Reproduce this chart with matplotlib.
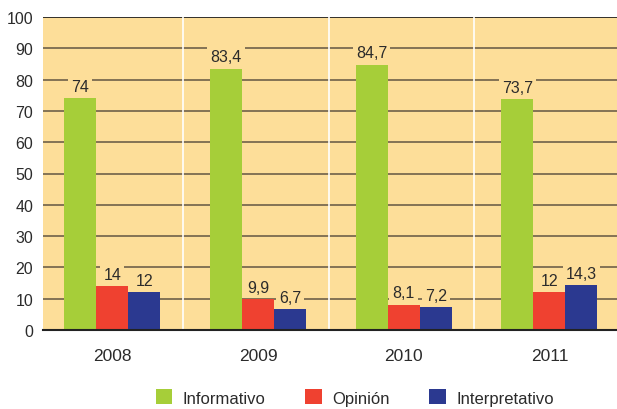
import matplotlib.pyplot as plt
import numpy as np

plt.rcParams['font.family'] = ['Liberation Sans', 'DejaVu Sans']

# Datos
anios = ['2008', '2009', '2010', '2011']
informativo = [74, 83.4, 84.7, 73.7]
opinion = [14, 9.9, 8.1, 12]
interpretativo = [12, 6.7, 7.2, 14.3]

colores = ['#A6CE39', '#EF4130', '#2B3990']
fondo = '#FDDE99'
texto = '#2b2b2b'

fig = plt.figure(figsize=(6.17, 4.10), dpi=100)
ax = fig.add_axes([43 / 617, 1 - 331 / 410, 1 - 43 / 617, (331 - 18) / 410])
ax.set_facecolor(fondo)

x = np.arange(len(anios))
ancho = 0.22
series = [('Informativo', informativo), ('Opinión', opinion), ('Interpretativo', interpretativo)]

# lineas horizontales de la cuadricula
for v in range(10, 100, 10):
    ax.axhline(v, color='#7a6a4f', lw=1.3, zorder=1)
ax.axhline(100, color='#222222', lw=1.3, zorder=1)
# separadores blancos entre grupos
for b in [0.485, 1.487, 2.483]:
    ax.axvline(b, color='white', lw=1.2, zorder=1)

for i, (nombre, valores) in enumerate(series):
    pos = x + (i - 1) * ancho
    ax.bar(pos, valores, ancho, color=colores[i], label=nombre, zorder=2)
    for p, v in zip(pos, valores):
        etiqueta = ('%g' % v).replace('.', ',')
        ax.text(p, v + 2.4, etiqueta, ha='center', va='baseline', fontsize=11.5, color=texto, zorder=3,
                bbox=dict(boxstyle='square,pad=0.2', fc=fondo, ec='none'))

ax.set_xlim(-0.476, 3.464)
ax.set_ylim(0, 100)
ax.set_yticks(range(0, 101, 10))
ax.set_xticks(x)
ax.set_xticklabels(anios)
ax.tick_params(axis='both', length=0, labelsize=11.5, colors=texto)
ax.tick_params(axis='x', pad=13, labelsize=12.5)
ax.tick_params(axis='y', pad=7)
for lado in ['left', 'right', 'top']:
    ax.spines[lado].set_visible(False)
ax.spines['bottom'].set_color('#222222')
ax.spines['bottom'].set_linewidth(1.5)

fig.legend(loc='center', bbox_to_anchor=(0.575, 0.028), ncol=3, frameon=False, fontsize=12,
           handlelength=1.0, handleheight=1.0, handletextpad=0.6, columnspacing=2.4,
           labelcolor=texto)

fig.savefig('out.png', dpi=100, facecolor='white')
